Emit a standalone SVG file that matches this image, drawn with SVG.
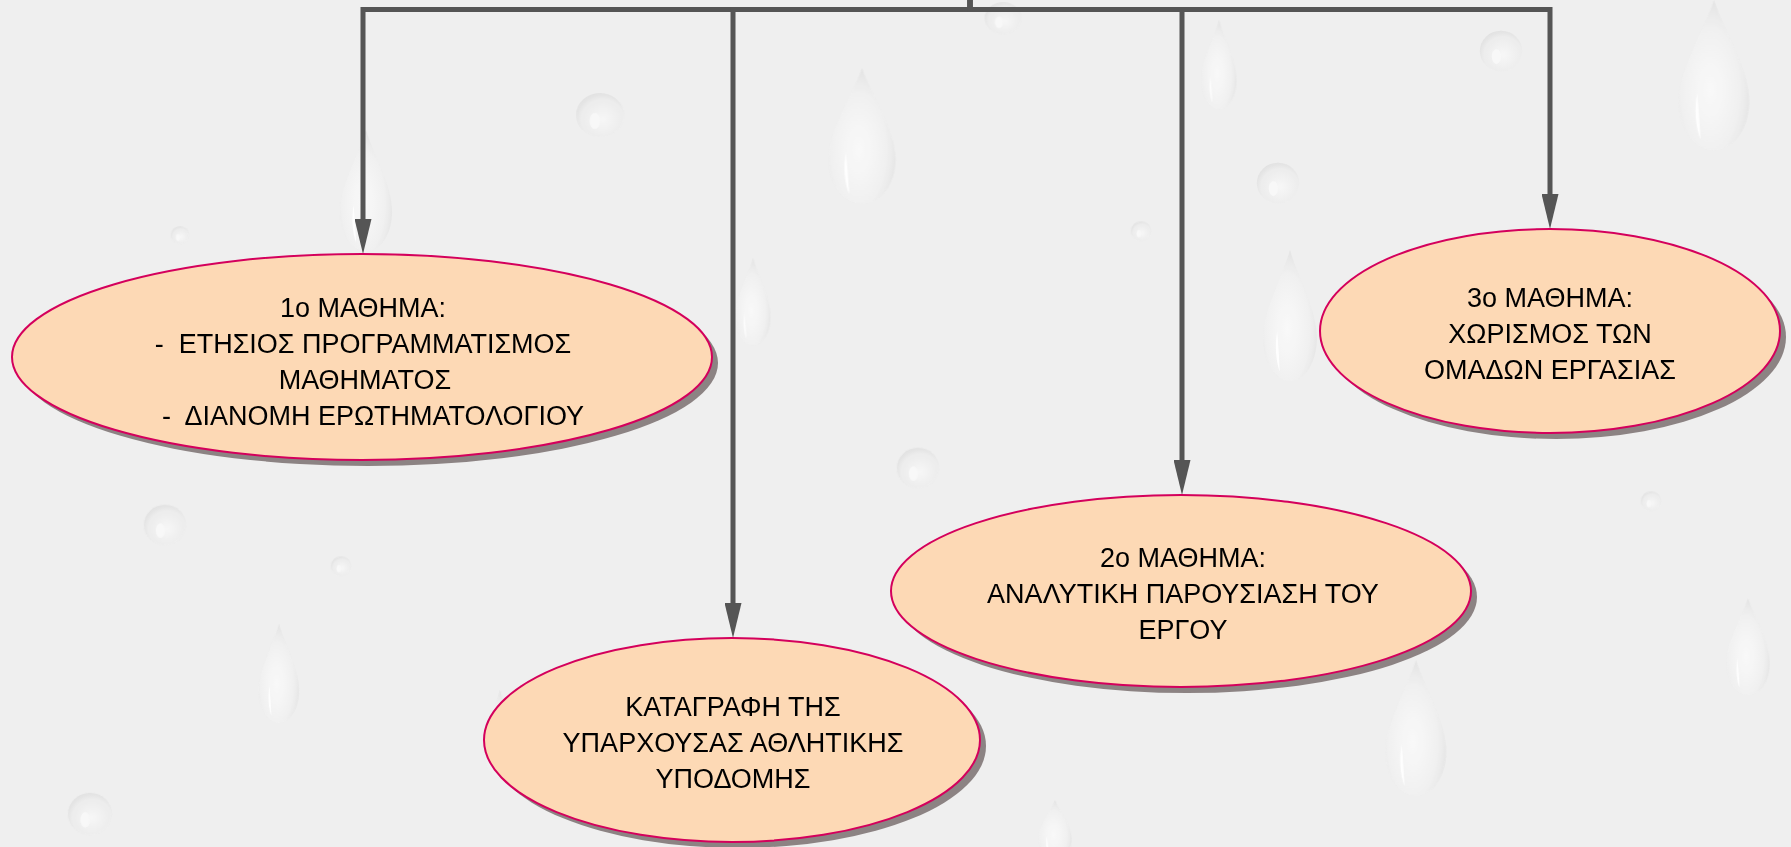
<svg xmlns="http://www.w3.org/2000/svg" width="1791" height="847" viewBox="0 0 1791 847">
<defs>
<radialGradient id="dropFill" cx="0.45" cy="0.6" r="0.6">
<stop offset="0" stop-color="#fafafa"/>
<stop offset="0.7" stop-color="#f0f0f0"/>
<stop offset="1" stop-color="#e2e2e2"/>
</radialGradient>
<radialGradient id="blobFill" cx="0.55" cy="0.6" r="0.6">
<stop offset="0" stop-color="#f7f7f7"/>
<stop offset="0.75" stop-color="#ececec"/>
<stop offset="1" stop-color="#e0e0e0"/>
</radialGradient>
<symbol id="drop" viewBox="0 0 100 200" preserveAspectRatio="none">
<path d="M50,0 C62,40 92,90 92,130 C92,168 72,194 50,194 C28,194 8,168 8,130 C8,90 38,40 50,0 Z" fill="url(#dropFill)"/>
<path d="M30,120 C26,140 28,165 34,180 C33,160 32,140 30,120 Z" fill="#ffffff"/>
</symbol>
<symbol id="blob" viewBox="0 0 100 100" preserveAspectRatio="none">
<ellipse cx="50" cy="50" rx="46" ry="44" fill="url(#blobFill)"/>
<ellipse cx="40" cy="62" rx="10" ry="16" fill="#f9f9f9"/>
</symbol>
<marker id="arrow" viewBox="0 0 35 17" refX="5" refY="8.5" markerWidth="35" markerHeight="17" markerUnits="userSpaceOnUse" orient="auto">
<path d="M0,0 L35,8.5 L0,17 Z" fill="#555555"/>
</marker>
</defs>
<style>
.conn { fill: none; stroke: #555555; stroke-width: 5; stroke-linejoin: miter; }
.shadow { fill: #8c8383; }
.node { fill: #fdd9b5; stroke: #d4005c; stroke-width: 2; }
.lbl { font-family: "Liberation Sans", Arial, sans-serif; font-size: 27px; fill: #000000; text-anchor: middle; }
</style>
<rect x="0" y="0" width="1791" height="847" fill="#efefef"/>
<g id="background-drops" opacity="0.9">
<use href="#drop" x="822" y="68" width="80" height="140"/>
<use href="#drop" x="335" y="130" width="62" height="125"/>
<use href="#drop" x="1672" y="0" width="84" height="155"/>
<use href="#drop" x="1258" y="250" width="64" height="135"/>
<use href="#drop" x="1380" y="660" width="72" height="140"/>
<use href="#drop" x="1722" y="598" width="52" height="100"/>
<use href="#drop" x="255" y="624" width="48" height="102"/>
<use href="#drop" x="1198" y="20" width="42" height="92"/>
<use href="#drop" x="732" y="258" width="42" height="90"/>
<use href="#drop" x="1035" y="800" width="40" height="60"/>
<use href="#drop" x="480" y="690" width="40" height="90"/>
<use href="#blob" x="574" y="90" width="52" height="50"/>
<use href="#blob" x="1255" y="160" width="46" height="46"/>
<use href="#blob" x="1478" y="28" width="46" height="46"/>
<use href="#blob" x="895" y="445" width="46" height="46"/>
<use href="#blob" x="142" y="502" width="46" height="46"/>
<use href="#blob" x="66" y="790" width="48" height="48"/>
<use href="#blob" x="983" y="0" width="40" height="36"/>
<use href="#blob" x="1500" y="250" width="30" height="30"/>
<use href="#blob" x="170" y="225" width="20" height="20"/>
<use href="#blob" x="1130" y="220" width="22" height="22"/>
<use href="#blob" x="330" y="555" width="22" height="22"/>
<use href="#blob" x="1640" y="490" width="22" height="22"/>
</g>
<g id="connectors">
<path class="conn" d="M970,0 V9.5 H363 V224" marker-end="url(#arrow)"/>
<path class="conn" d="M970,0 V9.5 H733 V608" marker-end="url(#arrow)"/>
<path class="conn" d="M970,0 V9.5 H1182 V465" marker-end="url(#arrow)"/>
<path class="conn" d="M970,0 V9.5 H1550 V199" marker-end="url(#arrow)"/>
</g>
<g id="node-1">
<ellipse class="shadow" cx="368" cy="363" rx="350" ry="103"/>
<ellipse class="node" cx="362" cy="357" rx="350" ry="103"/>
<text class="lbl" x="363" y="317">1ο ΜΑΘΗΜΑ:</text>
<text class="lbl" x="363" y="353" xml:space="preserve">-  ΕΤΗΣΙΟΣ ΠΡΟΓΡΑΜΜΑΤΙΣΜΟΣ</text>
<text class="lbl" x="365" y="389">ΜΑΘΗΜΑΤΟΣ</text>
<text class="lbl" x="373" y="425" xml:space="preserve">-  ΔΙΑΝΟΜΗ ΕΡΩΤΗΜΑΤΟΛΟΓΙΟΥ</text>
</g>
<g id="node-2">
<ellipse class="shadow" cx="738" cy="746" rx="248" ry="102"/>
<ellipse class="node" cx="732" cy="740" rx="248" ry="102"/>
<text class="lbl" x="733" y="716">ΚΑΤΑΓΡΑΦΗ ΤΗΣ</text>
<text class="lbl" x="733" y="752">ΥΠΑΡΧΟΥΣΑΣ ΑΘΛΗΤΙΚΗΣ</text>
<text class="lbl" x="733" y="788">ΥΠΟΔΟΜΗΣ</text>
</g>
<g id="node-3">
<ellipse class="shadow" cx="1187" cy="597" rx="290" ry="96"/>
<ellipse class="node" cx="1181" cy="591" rx="290" ry="96"/>
<text class="lbl" x="1183" y="567">2ο ΜΑΘΗΜΑ:</text>
<text class="lbl" x="1183" y="603">ΑΝΑΛΥΤΙΚΗ ΠΑΡΟΥΣΙΑΣΗ ΤΟΥ</text>
<text class="lbl" x="1183" y="639">ΕΡΓΟΥ</text>
</g>
<g id="node-4">
<ellipse class="shadow" cx="1556" cy="337" rx="230" ry="102"/>
<ellipse class="node" cx="1550" cy="331" rx="230" ry="102"/>
<text class="lbl" x="1550" y="307">3ο ΜΑΘΗΜΑ:</text>
<text class="lbl" x="1550" y="343">ΧΩΡΙΣΜΟΣ ΤΩΝ</text>
<text class="lbl" x="1550" y="379">ΟΜΑΔΩΝ ΕΡΓΑΣΙΑΣ</text>
</g>
</svg>
